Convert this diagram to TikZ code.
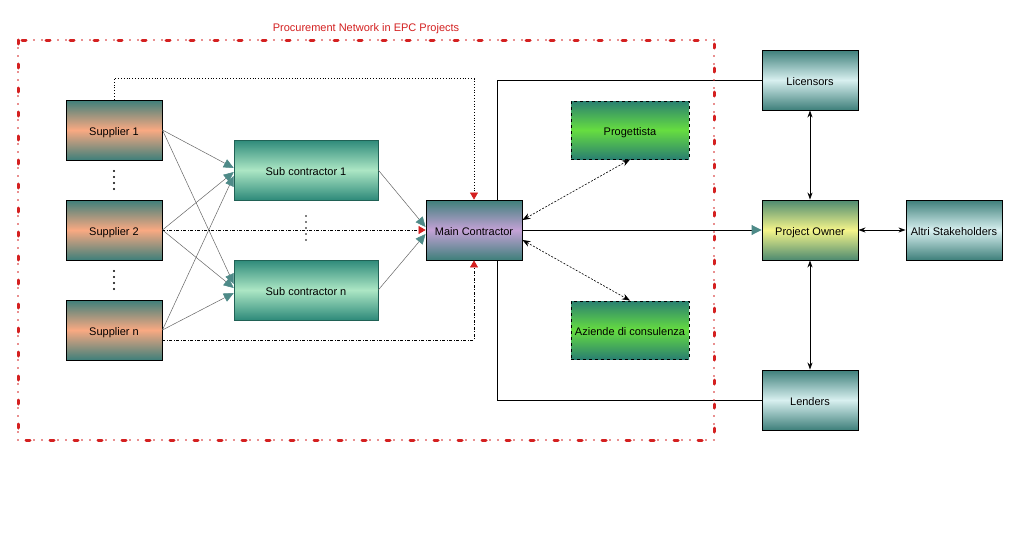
\documentclass[tikz,border=0pt]{standalone}
\usepackage{fontspec}
\setmainfont{Liberation Sans}
\usetikzlibrary{arrows.meta,calc,backgrounds}
\definecolor{edgeteal}{HTML}{3E7F7A}
\definecolor{salmon}{HTML}{F9A982}
\definecolor{subteal}{HTML}{2E8A7A}
\definecolor{mint}{HTML}{ACE6C4}
\definecolor{lav}{HTML}{C4A2D6}
\definecolor{ggreen}{HTML}{66DD40}
\definecolor{gteal}{HTML}{2A8070}
\definecolor{yel}{HTML}{F5F58A}
\definecolor{olive}{HTML}{4D8A70}
\definecolor{ice}{HTML}{D8F0F0}
\definecolor{framered}{HTML}{D42020}
\definecolor{arrteal}{HTML}{4E8A88}
\tikzset{
  box/.style={draw=black, line width=0.9pt, minimum width=96pt, minimum height=60pt, inner sep=0pt, text height=10pt, text depth=0pt, font=\fontsize{11}{13}\selectfont},
  supbox/.style={box, top color=edgeteal, bottom color=edgeteal, middle color=salmon},
  subbox/.style={box, draw=subteal!70!black, line width=0.5pt, minimum width=144pt, top color=subteal, bottom color=subteal, middle color=mint},
  mcbox/.style={box, top color=edgeteal, bottom color=edgeteal, middle color=lav},
  grbox/.style={box, dashed, minimum width=118pt, minimum height=58pt, top color=gteal, bottom color=gteal, middle color=ggreen},
  icebox/.style={box, top color=edgeteal, bottom color=edgeteal, middle color=ice},
  pobox/.style={box, top color=olive, bottom color=olive, middle color=yel},
  feed/.style={draw=gray!80!black, line width=0.5pt, -{Triangle[length=10pt,width=9pt,fill=arrteal,color=arrteal]}},
  redarr/.style={-{Triangle[length=7pt,width=8pt,fill=framered,color=framered]}},
  dotline/.style={line width=0.6pt, dash pattern=on 1pt off 1.8pt},
  dashdotline/.style={line width=0.6pt, dash pattern=on 3pt off 1.5pt on 1pt off 1.5pt},
  twoway/.style={line width=0.6pt, dash pattern=on 2pt off 1.5pt, {Stealth[length=8pt,width=6pt]}-{Stealth[length=8pt,width=6pt]}},
  solidtwo/.style={line width=0.8pt, {Stealth[length=7pt,width=5pt]}-{Stealth[length=7pt,width=5pt]}},
  framethick/.style={framered, line width=3pt, line cap=round, dash pattern=on 4pt off 20pt},
  framedots/.style={framered, line width=1.7pt, line cap=round, dash pattern=on 0pt off 8pt},
}
\begin{document}
\begin{tikzpicture}[x=1pt,y=-1pt]
\useasboundingbox (0,0) rectangle (1014,546);
\begin{scope}[on background layer]
\fill[white] (0,0) rectangle (1014,546);
\end{scope}

% title
\node[text=framered, font=\fontsize{11}{13}\selectfont] (title) at (366,29) {Procurement Network in EPC Projects};

% nodes
\node[supbox] (s1) at (114,130) {Supplier 1};
\node[supbox] (s2) at (114,230) {Supplier 2};
\node[supbox] (sn) at (114,330) {Supplier n};
\node[subbox] (sub1) at (306,170) {Sub contractor 1};
\node[subbox] (subn) at (306,290) {Sub contractor n};
\node[mcbox] (mc) at (474,230) {Main Contractor};
\node[grbox] (prog) at (630,130) {Progettista};
\node[grbox] (az) at (630,330) {Aziende di consulenza};
\node[icebox] (lic) at (810,80) {Licensors};
\node[pobox] (po) at (810,230) {Project Owner};
\node[icebox] (altri) at (954,230) {Altri Stakeholders};
\node[icebox] (len) at (810,400) {Lenders};

% bracket behind main contractor
\begin{scope}[on background layer]
\draw[line width=0.9pt] (lic.west) -- ($(lic.west)+(-264,0)$) |- (len.west);
\end{scope}

% vertical dots
\foreach \y in {171,177,183,189} \fill (114,\y) circle (1.1pt);
\foreach \y in {271,277,283,289} \fill (114,\y) circle (1.1pt);
\foreach \y in {216,222,228,234,240} \fill (306,\y) circle (0.9pt);

% supplier -> sub contractor
\draw[feed] (s1.east) -- ($(sub1.west)+(0,-2)$);
\draw[feed] (s2.east) -- ($(sub1.west)+(0,2)$);
\draw[feed] (sn.east) -- ($(sub1.west)+(0,6)$);
\draw[feed] (s1.east) -- ($(subn.west)+(0,-6)$);
\draw[feed] (s2.east) -- ($(subn.west)+(0,-2)$);
\draw[feed] (sn.east) -- ($(subn.west)+(0,3)$);
\draw[feed] (sub1.east) -- ($(mc.west)+(0,-3)$);
\draw[feed] (subn.east) -- ($(mc.west)+(0,4)$);

% direct supplier -> main contractor
\draw[dotline, redarr] (s1.north) -- ($(s1.north)+(0,-21)$) -| (mc.north);
\draw[dashdotline, redarr] (s2.east) -- (mc.west);
\draw[dashdotline, redarr] ($(sn.east)+(0,10)$) -| (mc.south);

% main contractor <-> consultants
\draw[twoway] ($(mc.east)+(0,-10)$) -- (prog.south);
\draw[twoway] ($(mc.east)+(0,10)$) -- (az.north);

% main contractor -> project owner
\draw[line width=0.9pt, -{Triangle[length=10pt,width=10pt,fill=arrteal,color=arrteal]}] (mc.east) -- (po.west);

% project owner links
\draw[solidtwo] (lic.south) -- (po.north);
\draw[solidtwo] (po.south) -- (len.north);
\draw[solidtwo] (po.east) -- (altri.west);

% red frame
\draw[framethick] (18,40) rectangle (714,440);
\draw[framedots] (18,40) rectangle (714,440);
\end{tikzpicture}
\end{document}
